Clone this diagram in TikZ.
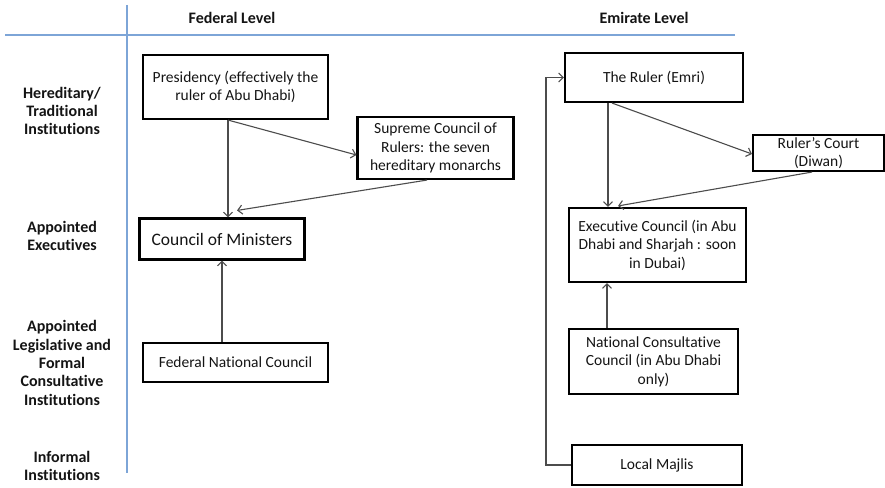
\documentclass[tikz,border=0pt]{standalone}
\usepackage{fontspec}
\setmainfont{Carlito}[Ligatures=NoCommon]
\usetikzlibrary{arrows.meta}
\definecolor{gridblue}{RGB}{125,165,215}
\definecolor{ink}{RGB}{20,20,20}
\begin{document}
\begin{tikzpicture}[x=1pt,y=-1pt,
  box/.style={draw=black,line width=2.1pt,align=center,inner sep=2pt,
    text=ink,font=\fontsize{15.5}{18.5}\selectfont},
  rowlabel/.style={align=center,text=ink,font=\fontsize{16}{18.3}\selectfont\bfseries},
  link/.style={draw=black!70,line width=1.1pt,-{Straight Barb[length=4.5pt,width=9pt,line width=1.1pt]}},
  divider/.style={draw=gridblue,line width=1.8pt}]
\useasboundingbox (0,0) rectangle (885,487);

% grid lines
\coordinate (vtop) at (127,5);
\coordinate (vbot) at (127,473);
\coordinate (hl) at (5,35);
\coordinate (hr) at (735,35);
\draw[divider] (vtop) -- (vbot);
\draw[divider] (hl) -- (hr);

% column headings
\node[rowlabel] (fedhead) at (232,18) {Federal Level};
\node[rowlabel] (emihead) at (644,18) {Emirate Level};

% row labels
\node[rowlabel] (rowher) at (62,111) {Hereditary/\\Traditional\\Institutions};
\node[rowlabel] (rowexec) at (62,236) {Appointed\\Executives};
\node[rowlabel] (rowleg) at (62,363) {Appointed\\Legislative and\\Formal\\Consultative\\Institutions};
\node[rowlabel] (rowinf) at (62,466) {Informal\\Institutions};

% federal boxes
\node[box,minimum width=185pt,minimum height=64pt] (pres) at (235.5,87)
  {Presidency (effectively the\\ruler of Abu Dhabi)};
\node[box,minimum width=156pt,minimum height=62pt] (sup) at (435.5,148)
  {Supreme Council of\\Rulers: the seven\\hereditary monarchs};
\node[box,minimum width=165pt,minimum height=41pt,font=\fontsize{17.5}{20}\selectfont] (com) at (222,239)
  {Council of Ministers};
\node[box,minimum width=185pt,minimum height=39pt] (fnc) at (235.5,362.5)
  {Federal National Council};

% emirate boxes
\node[box,minimum width=178pt,minimum height=49pt] (ruler) at (654,77.5)
  {The Ruler (Emri)};
\node[box,minimum width=131pt,minimum height=36pt] (court) at (818.5,153)
  {Ruler’s Court\\(Diwan)};
\node[box,minimum width=177pt,minimum height=74pt] (exec) at (657.5,245)
  {Executive Council (in Abu\\Dhabi and Sharjah : soon\\in Dubai)};
\node[box,minimum width=169pt,minimum height=65pt] (ncc) at (653.5,361.5)
  {National Consultative\\Council (in Abu Dhabi\\only)};
\node[box,minimum width=170pt,minimum height=40pt] (majlis) at (657,465)
  {Local Majlis};

% federal connectors
\draw[link] ([xshift=-7.5pt]pres.south) -- ([xshift=6pt]com.north);
\draw[link] ([xshift=-7.5pt]pres.south) -- ([yshift=-7pt]sup.west);
\draw[link] ([xshift=-8.5pt]sup.south) -- ([xshift=15pt,yshift=7pt]com.north);
\draw[link] ([xshift=-13.5pt]fnc.north) -- ([xshift=0pt]com.south);

% emirate connectors
\draw[link] ([xshift=-46pt]ruler.south) -- ([xshift=-49.5pt]exec.north);
\draw[link] ([xshift=-42pt]ruler.south) -- ([yshift=-1pt]court.west);
\draw[link] ([xshift=-6.5pt]court.south) -- ([xshift=-39.5pt,yshift=1pt]exec.north);
\draw[link] ([xshift=-46.5pt]ncc.north) -- ([xshift=-50.5pt]exec.south);
\coordinate (bend) at (546,465);
\draw[link] (majlis.west) -- (bend) |- (ruler.west);
\end{tikzpicture}
\end{document}
